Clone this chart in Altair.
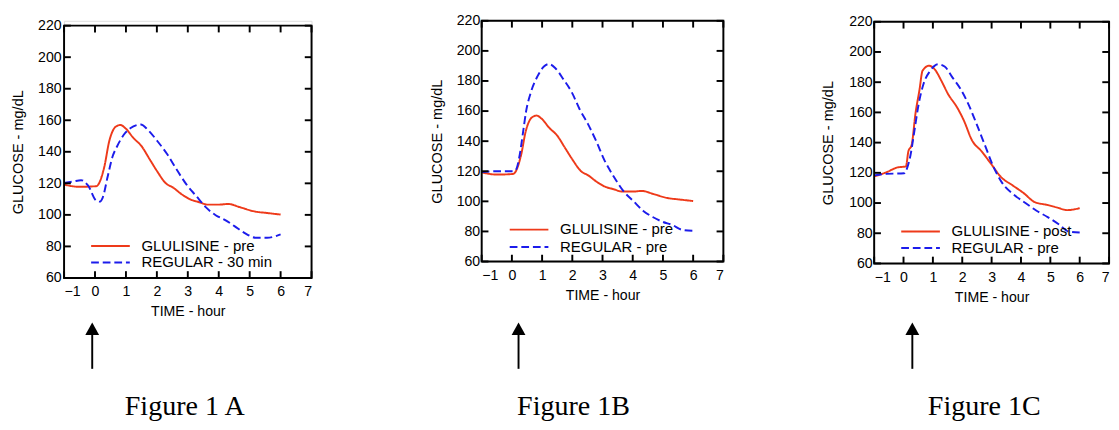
import altair as alt
import pandas as pd

# ---------------- data ----------------
x_ticks = [-1, 0, 1, 2, 3, 4, 5, 6, 7]
y_ticks = [60, 80, 100, 120, 140, 160, 180, 200, 220]

# GLULISINE - pre (same curve in panels A and B)
glu_pre_t = [-1, -0.5, 0.04, 0.3, 0.46, 0.67, 0.82, 0.98, 1.24, 1.5, 1.76, 2.02, 2.28,
             2.54, 2.8, 3.06, 3.38, 3.64, 4.0, 4.31, 4.68, 5.15, 5.56, 6.0]
glu_pre_v = [119.2, 117.8, 118.2, 130.4, 146.7, 155.9, 157.0, 155.0, 148.8, 143.7, 135.5,
             127.3, 120.2, 117.1, 113.1, 110.0, 108.0, 106.5, 106.5, 106.9, 104.9, 102.2,
             101.2, 100.2]

# REGULAR - 30 min (panel A)
reg_30_t = [-1, -0.7, -0.45, -0.22, 0.04, 0.15, 0.25, 0.41, 0.56, 0.72, 0.93, 1.14, 1.48,
            1.71, 2.02, 2.33, 2.65, 2.96, 3.27, 3.58, 3.9, 4.21, 4.52, 4.83, 5.2, 5.56, 6.0]
reg_30_v = [120.2, 121.2, 122.0, 118.5, 109.0, 108.4, 111.0, 124.3, 136.5, 143.7, 150.8,
            154.9, 157.3, 153.9, 146.7, 138.6, 128.4, 119.2, 112.0, 104.9, 99.8, 96.7,
            92.7, 88.6, 85.5, 85.5, 87.6]

# REGULAR - pre (panel B)
reg_pre_b_t = [-1, -0.5, 0.04, 0.13, 0.26, 0.37, 0.47, 0.63, 0.85, 1.06, 1.23, 1.44, 1.71,
               1.98, 2.25, 2.52, 2.8, 3.05, 3.38, 3.7, 4.02, 4.34, 4.66, 4.99, 5.31, 5.63, 6.0]
reg_pre_b_v = [119.4, 120.0, 120.0, 120.9, 131.0, 146.0, 159.8, 172.6, 183.2, 189.6, 191.3,
               188.5, 181.0, 172.6, 160.9, 151.3, 139.6, 127.9, 116.2, 106.6, 100.2, 93.8,
               89.6, 86.4, 84.3, 81.1, 80.4]

# GLULISINE - post (panel C)
glu_post_t = [-1, -0.58, -0.2, 0.08, 0.165, 0.276, 0.41, 0.54, 0.65, 0.87, 1.07, 1.29,
              1.51, 1.84, 2.06, 2.33, 2.66, 2.99, 3.32, 3.7, 4.09, 4.47, 4.91, 5.24, 5.57, 6.0]
glu_post_v = [117.6, 120.4, 123.6, 124.2, 134.2, 138.4, 159.7, 174.5, 187.7, 190.9, 188.3,
              180.9, 172.4, 162.8, 154.4, 141.6, 134.2, 125.7, 117.2, 111.9, 106.6, 100.6,
              98.7, 97.0, 95.3, 96.6]

# REGULAR - pre (panel C)
reg_pre_c_t = [-1, -0.58, 0.02, 0.13, 0.24, 0.38, 0.52, 0.68, 0.9, 1.18, 1.4, 1.67, 1.94,
               2.22, 2.49, 2.77, 3.05, 3.37, 3.76, 4.14, 4.53, 4.91, 5.3, 5.63, 6.0]
reg_pre_c_v = [118.3, 119.3, 119.7, 123.6, 132.0, 149.0, 166.0, 178.8, 187.3, 191.9, 190.4,
               183.0, 175.6, 165.0, 152.2, 138.4, 124.6, 113.0, 105.5, 100.2, 94.9, 90.7,
               85.8, 81.1, 80.5]

series_labels_a = ["GLULISINE - pre", "REGULAR  - 30 min"]
series_labels_b = ["GLULISINE - pre", "REGULAR  - pre"]
series_labels_c = ["GLULISINE - post", "REGULAR  - pre"]

captions = ["Figure 1 A", "Figure 1B", "Figure 1C"]
caption_x = [2.9, 2.04, 2.75]       # hours, centre of caption
arrow_x = [-0.09, 0.22, 0.3]        # hours, injection arrow

RED = "#EE3A1A"
BLUE = "#1C1CEB"
SANS = "Liberation Sans"
FS = 14.6
ORIGIN = 12   # page y of the common view origin


def panel(t1, v1, t2, v2, labels, W, H, dy, leg_x, leg_y, leg_dy, lab_pad, title_pad,
          arrow_t, cap, cap_t, spacer_x=None):
    df = pd.concat([
        pd.DataFrame({"t": t1, "v": v1, "series": labels[0], "o": range(len(t1))}),
        pd.DataFrame({"t": t2, "v": v2, "series": labels[1], "o": range(len(t2))}),
    ])
    xscale = alt.Scale(domain=[-1, 7], nice=False, zero=False)
    yscale = alt.Scale(domain=[60, 220], range=[dy + H, dy], nice=False, zero=False)
    xaxis = alt.Axis(values=x_ticks, ticks=False, domain=False, grid=False,
                     labelFont=SANS, labelFontSize=FS, labelColor="black", labelPadding=6.5,
                     title="TIME - hour", titleFont=SANS, titleFontSize=FS,
                     titleFontWeight="normal", titleColor="black", titlePadding=6)
    yaxis = alt.Axis(values=y_ticks, ticks=False, domain=False, grid=False,
                     labelFont=SANS, labelFontSize=FS, labelColor="black",
                     labelPadding=lab_pad,
                     title="GLUCOSE - mg/dL", titleFont=SANS, titleFontSize=15,
                     titleFontWeight="normal", titleColor="black", titlePadding=title_pad)
    X = alt.X("t:Q", scale=xscale, axis=xaxis)
    Y = alt.Y("v:Q", scale=yscale, axis=yaxis)
    cscale = alt.Scale(domain=labels, range=[RED, BLUE])
    dscale = alt.Scale(domain=labels, range=[[1, 0], [8, 4]])
    lines = alt.Chart(df).mark_line(strokeWidth=2, interpolate="monotone").encode(
        x=X, y=Y,
        color=alt.Color("series:N", scale=cscale, legend=None),
        strokeDash=alt.StrokeDash("series:N", scale=dscale, legend=None),
        order="o:Q",
    )
    layers = [lines]
    # legend drawn inside the plot
    for i, lab in enumerate(labels):
        ldf = pd.DataFrame({"series": [lab]})
        ly = dy + leg_y + i * leg_dy
        layers.append(alt.Chart(ldf).mark_rule(strokeWidth=2).encode(
            x=alt.value(leg_x), x2=alt.value(leg_x + 40), y=alt.value(ly),
            color=alt.Color("series:N", scale=cscale, legend=None),
            strokeDash=alt.StrokeDash("series:N", scale=dscale, legend=None),
        ))
        layers.append(alt.Chart(ldf).mark_text(
            font=SANS, fontSize=15.5, color="black", align="left", baseline="middle"
        ).encode(x=alt.value(leg_x + 52), y=alt.value(ly), text="series:N"))

    adf = pd.DataFrame({"t": [arrow_t]})
    # frame
    layers.append(alt.Chart(adf).mark_rect(filled=False, color="black", strokeWidth=2).encode(
        x=alt.value(0), x2=alt.value(W), y=alt.value(dy), y2=alt.value(dy + H)))
    # inward ticks on all four sides
    xt = pd.DataFrame({"t": x_ticks})
    yt = pd.DataFrame({"v": y_ticks})
    tk = dict(strokeWidth=2, color="black")
    layers.append(alt.Chart(xt).mark_rule(**tk).encode(
        x=X, y=alt.value(dy + H), y2=alt.value(dy + H - 7)))
    layers.append(alt.Chart(xt).mark_rule(**tk).encode(
        x=X, y=alt.value(dy), y2=alt.value(dy + 7)))
    layers.append(alt.Chart(yt).mark_rule(**tk).encode(y=Y, x=alt.value(0), x2=alt.value(7)))
    layers.append(alt.Chart(yt).mark_rule(**tk).encode(
        y=Y, x=alt.value(W), x2=alt.value(W - 7)))

    # arrow and caption below the plot
    layers.append(alt.Chart(adf).mark_rule(strokeWidth=2, color="black").encode(
        x=X, y=alt.value(336 - ORIGIN), y2=alt.value(372 - ORIGIN)))
    layers.append(alt.Chart(adf).mark_point(shape="M0,-1L1.1,1L-1.1,1Z", filled=True,
                                            size=169, color="black", opacity=1).encode(
        x=X, y=alt.value(330.5 - ORIGIN)))
    cdf = pd.DataFrame({"t": [cap_t], "label": [cap]})
    layers.append(alt.Chart(cdf).mark_text(font="Liberation Serif", fontSize=29,
                                           color="black", align="center",
                                           baseline="alphabetic").encode(
        x=X, y=alt.value(420 - ORIGIN), text="label:N"))
    if spacer_x is not None:
        layers.append(alt.Chart(adf).mark_rule(color="white", strokeWidth=1).encode(
            x=alt.value(spacer_x), y=alt.value(dy + H / 2), y2=alt.value(dy + H / 2 + 1)))
    return alt.layer(*layers).properties(width=W, height=dy + H)


pa = panel(glu_pre_t, glu_pre_v, reg_30_t, reg_30_v, series_labels_a, 256, 261, 5,
           28, 228, 17, 3, 13, arrow_x[0], captions[0], caption_x[0], spacer_x=256 + 23)
pb = panel(glu_pre_t, glu_pre_v, reg_pre_b_t, reg_pre_b_v, series_labels_b, 250, 249, 0,
           29, 216, 18, 2, 12, arrow_x[1], captions[1], caption_x[1])
pc = panel(glu_post_t, glu_post_v, reg_pre_c_t, reg_pre_c_v, series_labels_c, 243, 250, 1,
           28, 217, 17, 2, 13.5, arrow_x[2], captions[2], caption_x[2])

chart = alt.hconcat(pa, pb, pc, spacing=98).resolve_scale(
    color="independent", strokeDash="independent"
).properties(
    padding={"left": 2, "top": -3, "right": 0, "bottom": 0}
).configure_view(
    stroke="transparent", strokeWidth=0
).configure(background="white")

chart.save("out.html", embed_options={"renderer": "svg", "actions": False})
